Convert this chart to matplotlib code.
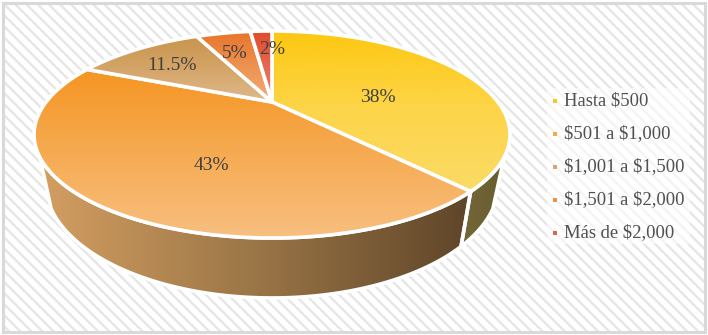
#!/usr/bin/env python3
# pie with perspective tilt, excel style
import numpy as np
import matplotlib
matplotlib.use('Agg')
import matplotlib.pyplot as plt
from matplotlib.patches import Polygon, Rectangle
from matplotlib.colors import LinearSegmentedColormap

categories = ['Hasta $500', '$501 a $1,000', '$1,001 a $1,500', '$1,501 a $2,000', 'Más de $2,000']
values = [38, 43, 11.5, 5, 2]
labels = ['38%', '43%', '11.5%', '5%', '2%']

top_colors = [('#fdc810', '#fdd54a', '#fbdb66'), ('#f59522', '#f6ab52', '#f8bf80'), ('#c9944d', '#d4a568', '#dfb98c'),
              ('#e8752a', '#ed9250', '#f2ae78'), ('#e04a2a', '#e56850', '#ea8575')]
legend_colors = ['#fdc90e', '#f7a84c', '#d9a66b', '#ee9050', '#e4604c']
label_pos = [(378, 98), (211, 165), (172, 66), (235, 53), (272, 50)]
legend_y = [101, 134, 167, 200, 233]

plt.rcParams['hatch.linewidth'] = 1.7
plt.rcParams['hatch.color'] = '#e6e6e6'

fig = plt.figure(figsize=(7.08, 3.35), dpi=100)
ax = fig.add_axes([0, 0, 1, 1])
ax.set_xlim(0, 708)
ax.set_ylim(335, 0)
ax.axis('off')

# background and frame
ax.add_patch(Rectangle((0, 0), 708, 335, facecolor='white', edgecolor='none', zorder=0))
ax.add_patch(Rectangle((3, 3), 702, 329, facecolor='white', hatch='\\\\\\', edgecolor='#e6e6e6', lw=0, zorder=1))
ax.add_patch(Rectangle((2.5, 2.5), 702, 329, facecolor='none', edgecolor='#d9d9d9', lw=2.2, zorder=2))


def top_rim(theta):
    u, v = np.sin(theta), np.cos(theta)
    d = 1 + 0.314 * v
    return 272 + 225.9 * u / d, (102 - 61.27 * v) / d


def low_rim(theta):
    u, v = np.sin(theta), np.cos(theta)
    d = 1 + 0.314 * v
    return 272 + 215 * u / d, (147.4 - 57 * v) / d


def grad_fill(xs, ys, cmap, horizontal, zorder, extent):
    poly = Polygon(np.column_stack([xs, ys]), closed=True, facecolor='none', edgecolor='none', zorder=zorder)
    ax.add_patch(poly)
    g = np.linspace(0, 1, 256)
    g = g.reshape(1, -1) if horizontal else g.reshape(-1, 1)
    im = ax.imshow(g, cmap=cmap, extent=extent, aspect='auto', zorder=zorder, vmin=0, vmax=1, origin='upper')
    im.set_clip_path(poly)
    ax.add_patch(Polygon(np.column_stack([xs, ys]), closed=True, facecolor='none', edgecolor='white',
                         lw=2.6, joinstyle='round', zorder=zorder + 0.1))


total = sum(values)
edges = np.cumsum([0] + values) / total * 2 * np.pi

# side walls, only the visible front part
wall_ranges = [(np.radians(120), edges[1]), (edges[1], np.radians(240))]
wall_maps = [LinearSegmentedColormap.from_list('w0', ['#75683a', '#655a2c']),
             LinearSegmentedColormap.from_list('w1', ['#d59f62', '#9b7647', '#5f4529'])]
wall_ext = [(460, 512, 300, 130), (35, 470, 300, 130)]
for (a, b), cm, ext in zip(wall_ranges, wall_maps, wall_ext):
    t = np.linspace(a, b, 120)
    xt, yt = top_rim(t)
    xl, yl = low_rim(t)
    grad_fill(np.r_[xt, xl[::-1]], np.r_[yt, yl[::-1]], cm, True, 3, ext)

# top faces
for i in range(len(values)):
    t = np.linspace(edges[i], edges[i + 1], 120)
    xt, yt = top_rim(t)
    xs = np.r_[272, xt]
    ys = np.r_[102, yt]
    cm = LinearSegmentedColormap.from_list('t%d' % i, top_colors[i])
    grad_fill(xs, ys, cm, False, 5 + i * 0.2, (xs.min(), xs.max(), ys.max(), ys.min()))

ax.set_xlim(0, 708)
ax.set_ylim(335, 0)

for lab, (x, y) in zip(labels, label_pos):
    ax.text(x, y, lab, fontsize=14, family='Liberation Serif', color='#404040', ha='center', va='center', zorder=10)

# legend
ax.add_patch(Rectangle((547, 88), 143, 156, facecolor='white', edgecolor='none', alpha=0.6, zorder=3))
for c, name, y in zip(legend_colors, categories, legend_y):
    ax.scatter([555], [y], s=6, marker='s', color=c, linewidths=0, zorder=10)
    ax.text(564, y, name, fontsize=13.4, family='Liberation Serif', color='#505050', ha='left', va='center',
            zorder=10, parse_math=False)

fig.savefig('out.png', dpi=100)
